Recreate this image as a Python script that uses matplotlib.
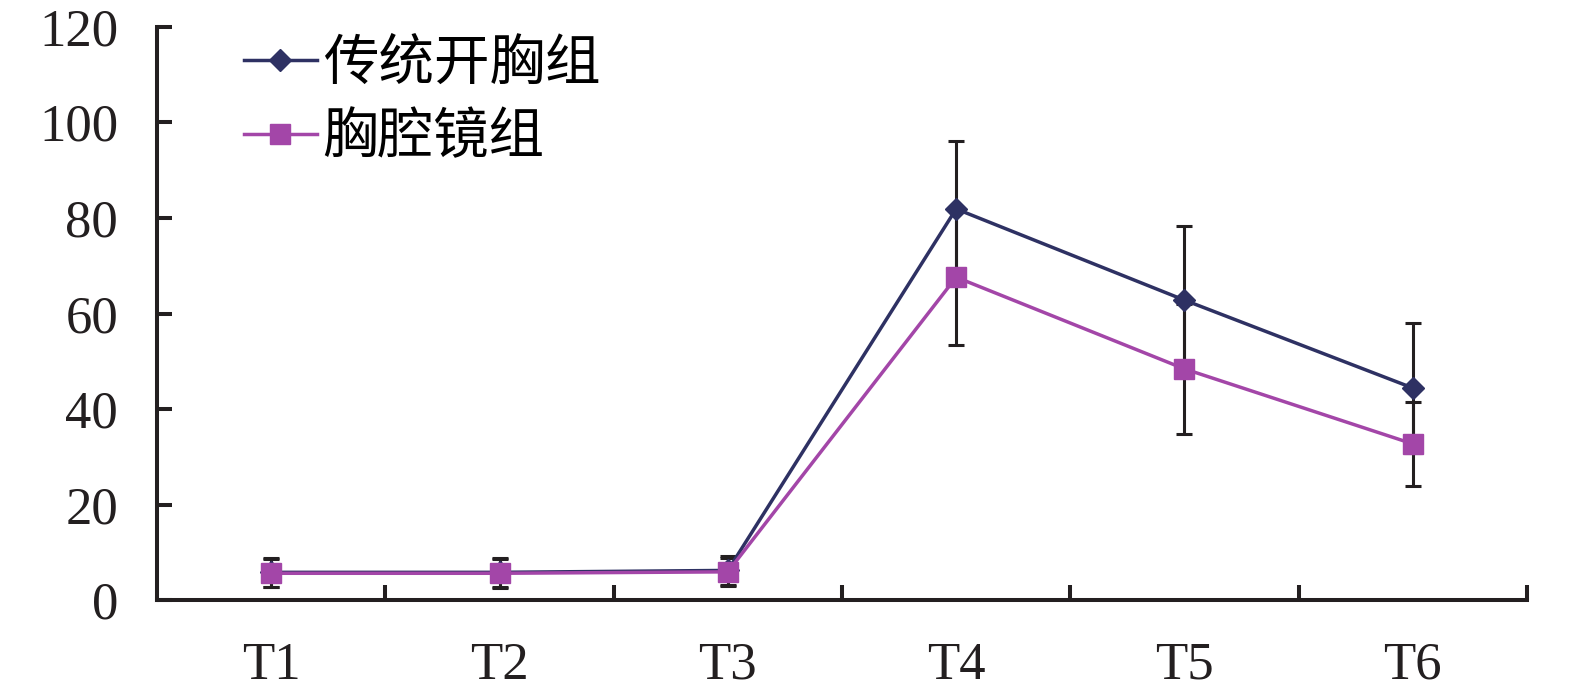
# IMPORT LIBRARY
import matplotlib
matplotlib.use("Agg")
import matplotlib.pyplot as plt
import numpy as np

# DATA
categories = ["T1", "T2", "T3", "T4", "T5", "T6"]
label_open = "传统开胸组"
label_vats = "胸腔镜组"
open_mean = [5.8, 5.8, 6.2, 81.9, 62.8, 44.4]
open_err = [3.0, 3.0, 3.0, 14.2, 15.5, 13.6]
vats_mean = [5.6, 5.6, 5.9, 67.6, 48.4, 32.7]
vats_err = [2.9, 3.0, 2.9, 14.2, 13.6, 8.8]
y_ticks = [0, 20, 40, 60, 80, 100, 120]

# COLORS
c_open = "#2E3163"
c_vats = "#A346A8"
c_err = "#231F20"

plt.rcParams["font.family"] = ["Liberation Serif", "Noto Sans CJK SC"]

fig = plt.figure(figsize=(15.75, 6.99), dpi=100)
ax = fig.add_axes([0.0997, 0.1416, 0.8698, 0.8198])

x = np.arange(len(categories)) + 0.5

# error bars first so markers cover the caps
ax.errorbar(x, open_mean, yerr=open_err, fmt="none", ecolor=c_err,
            elinewidth=2.2, capsize=6, capthick=2.2, zorder=2)
ax.errorbar(x, vats_mean, yerr=vats_err, fmt="none", ecolor=c_err,
            elinewidth=2.2, capsize=6, capthick=2.2, zorder=2)

ax.plot(x, open_mean, color=c_open, lw=2.5, marker="D", ms=11.5,
        label=label_open, zorder=3)
ax.plot(x, vats_mean, color=c_vats, lw=2.5, marker="s", ms=14,
        label=label_vats, zorder=4)

ax.set_xlim(0, len(categories))
ax.set_ylim(0, 120)
ax.set_yticks(y_ticks)
ax.set_xticks(np.arange(1, len(categories) + 1))
ax.set_xticklabels([])
ax.set_xticks(x, minor=True)
ax.set_xticklabels(categories, minor=True)

for s in ["top", "right"]:
    ax.spines[s].set_visible(False)
for s in ["left", "bottom"]:
    ax.spines[s].set_linewidth(2.9)
    ax.spines[s].set_color(c_err)

ax.tick_params(axis="both", which="major", direction="in", length=11,
               width=2.9, color=c_err, labelsize=38, labelcolor=c_err)
ax.tick_params(axis="y", pad=28)
ax.tick_params(axis="x", which="minor", length=0, labelsize=38,
               labelcolor=c_err, pad=30)

leg = ax.legend(loc="upper left", bbox_to_anchor=(0.047, 1.025),
                frameon=False, handlelength=1.32,
                handletextpad=0.1, labelspacing=0.3, borderaxespad=0,
                prop={"family": ["Noto Sans CJK SC"], "size": 40})

fig.savefig("out.png", dpi=100)
